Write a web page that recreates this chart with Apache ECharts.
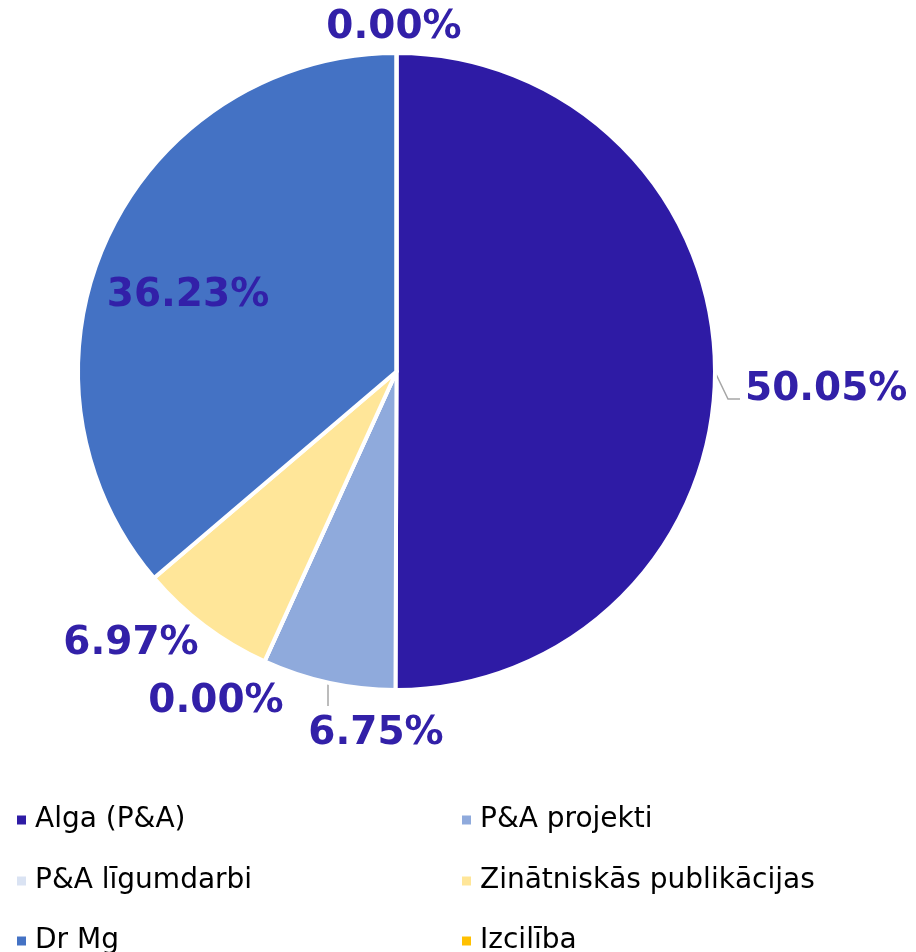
<!DOCTYPE html>
<html>
<head>
<meta charset="utf-8">
<script src="https://cdn.jsdelivr.net/npm/echarts@6/dist/echarts.min.js"></script>
<style>
  html, body { margin: 0; padding: 0; background: #fff; }
  #chart { width: 916px; height: 952px; }
</style>
</head>
<body>
<div id="chart"></div>
<script>
  // data
  let categories = ['Alga (P&A)', 'P&A projekti', 'P&A līgumdarbi', 'Zinātniskās publikācijas', 'Dr Mg', 'Izcilība'];
  let shares = [50.05, 6.75, 0.00, 6.97, 36.23, 0.00];
  let colors = ['#2E1BA5', '#8FAADC', '#DAE3F3', '#FFE699', '#4472C4', '#FFC000'];

  let font = 'DejaVu Sans, Verdana, sans-serif';
  let labelColor = '#3220A8';

  // where the labels sit (same order as categories)
  let labelPos = [
    {x: 745, y: 390, align: 'left', line: [[715, 372], [728, 399], [740, 399]]},
    {x: 376, y: 734, align: 'center', line: [[328, 684], [328, 706]]},
    {x: 216, y: 702, align: 'center'},
    {x: 131, y: 644, align: 'center'},
    {x: 188, y: 296, align: 'center'},
    {x: 394, y: 28, align: 'center'}
  ];

  let legendPos = [
    {left: 15, top: 806}, {left: 460, top: 806},
    {left: 15, top: 867}, {left: 460, top: 867},
    {left: 15, top: 927}, {left: 460, top: 927}
  ];

  let pieData = [];
  for (let i = 0; i < categories.length; i++) {
    pieData.push({
      name: categories[i],
      value: shares[i],
      itemStyle: {color: colors[i]},
      labelLine: {show: !!labelPos[i].line}
    });
  }

  let legends = [];
  for (let i = 0; i < categories.length; i++) {
    legends.push({
      data: [categories[i]],
      left: legendPos[i].left,
      top: legendPos[i].top,
      padding: 0,
      icon: 'rect',
      itemWidth: 11,
      itemHeight: 11,
      selectedMode: false,
      textStyle: {
        fontFamily: font,
        fontSize: 28,
        color: '#000',
        padding: [0, 0, 0, 3]
      }
    });
  }

  let myChart = echarts.init(document.getElementById('chart'));
  myChart.setOption({
    animation: false,
    legend: legends,
    series: [
      {
        type: 'pie',
        center: [396.5, 371.5],
        radius: [0, 318.5],
        startAngle: 90,
        clockwise: true,
        avoidLabelOverlap: false,
        itemStyle: {
          borderColor: '#fff',
          borderWidth: 4
        },
        label: {
          show: true,
          overflow: 'none',
          formatter: function (p) {
            return p.value.toFixed(2) + '%';
          },
          fontFamily: font,
          fontWeight: 'bold',
          fontSize: 39,
          color: labelColor
        },
        labelLine: {
          lineStyle: {color: '#A6A6A6', width: 1.5}
        },
        labelLayout: function (params) {
          let p = labelPos[params.dataIndex];
          let res = {x: p.x, y: p.y, align: p.align, verticalAlign: 'middle'};
          if (p.line) {
            res.labelLinePoints = p.line;
          }
          return res;
        },
        data: pieData
      }
    ]
  });
</script>
</body>
</html>
